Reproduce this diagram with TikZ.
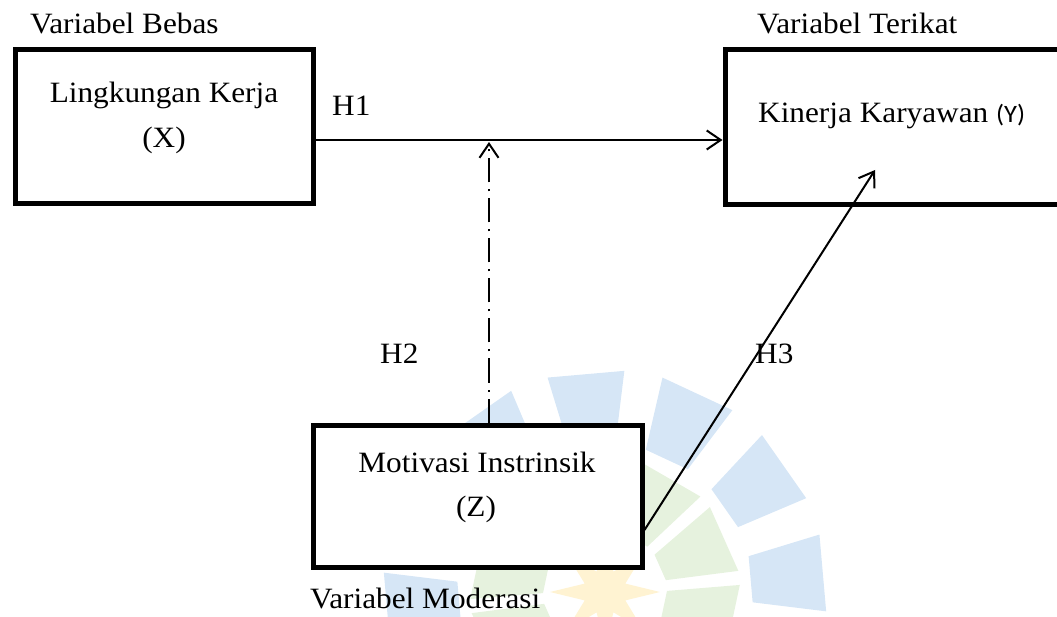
\documentclass[tikz,border=0pt]{standalone}
\usepackage{graphicx}
\usepackage{fontspec}
\setmainfont{Liberation Serif}
\newfontfamily\ysans{Carlito}
\usetikzlibrary{arrows.meta}
\definecolor{wmblue}{RGB}{214,230,246}
\definecolor{wmgreen}{RGB}{230,242,222}
\definecolor{wmyellow}{RGB}{255,243,210}
\newcommand{\sx}[1]{\scalebox{1.06}[1]{#1}}
\begin{document}
\begin{tikzpicture}[x=1pt,y=-1pt,
  box/.style={draw, line width=5pt, fill=white, inner sep=0pt},
  lbl/.style={inner sep=0pt, font=\fontsize{29.5}{35}\selectfont},
  conn/.style={line width=2pt},
  tip/.style={-{Straight Barb[length=14pt,width=19pt,line width=2pt]}},
  petal/.style={fill=wmblue},
  inpetal/.style={fill=wmgreen}
]
\useasboundingbox (0,0) rectangle (1057,617);
% faint watermark
\begin{scope}[shift={(605,592)}]
  \foreach \a in {0,...,11} {
    \pgfmathsetmacro\t{-5-\a*30}
    \fill[petal] (\t-9:148) -- (\t-10:222) -- (\t+10:222) -- (\t+9:148) -- cycle;
  }
  \foreach \a in {0,...,9} {
    \pgfmathsetmacro\t{-60-\a*36}
    \fill[inpetal] (\t-13:62) -- (\t-15:135) -- (\t+15:135) -- (\t+13:62) -- cycle;
  }
  \fill[wmyellow] (0:55) \foreach \k in {1,...,15} { -- ({\k*22.5}:{mod(\k,2)==1 ? 22 : 55}) } -- cycle;
\end{scope}
% boxes
\node[box, minimum width=298pt, minimum height=154pt] (X) at (164,127) {};
\node[box, minimum width=337pt, minimum height=155pt] (Y) at (893.5,127.5) {};
\node[box, minimum width=329pt, minimum height=142pt] (Z) at (477.5,496) {};
% texts
\node[lbl, anchor=base west] (tb) at (30,34) {\sx{Variabel Bebas}};
\node[lbl, anchor=base west] (tt) at (757,34) {\sx{Variabel Terikat}};
\node[lbl, anchor=base] (tx1) at (164,103) {\sx{Lingkungan Kerja}};
\node[lbl, anchor=base] (tx2) at (164,148) {\sx{(X)}};
\node[lbl, anchor=base west] (ty) at (758,123) {\sx{Kinerja Karyawan {\ysans\fontsize{25}{30}\selectfont(Y)}}};
\node[lbl, anchor=base] (tz1) at (477,472) {\sx{Motivasi Instrinsik}};
\node[lbl, anchor=base] (tz2) at (476,516) {\sx{(Z)}};
\node[lbl, anchor=base west] (tm) at (310,608) {\sx{Variabel Moderasi}};
\node[lbl, anchor=base west] (h1) at (332,116) {\sx{H1}};
\node[lbl, anchor=base west] (h2) at (380,363) {\sx{H2}};
\node[lbl, anchor=base west] (h3) at (755,363) {\sx{H3}};
% connectors
\coordinate (m) at (489,140);
\coordinate (t3) at (875,170);
\draw[conn, tip] (X.east |- m) -- (Y.west |- m);
\draw[conn, tip, shorten >=2pt, dash pattern=on 24pt off 7pt on 2pt off 7pt] (Z.north -| m) -- (m);
\draw[conn, tip] ([yshift=-34pt]Z.east) -- (t3);
\end{tikzpicture}
\end{document}
